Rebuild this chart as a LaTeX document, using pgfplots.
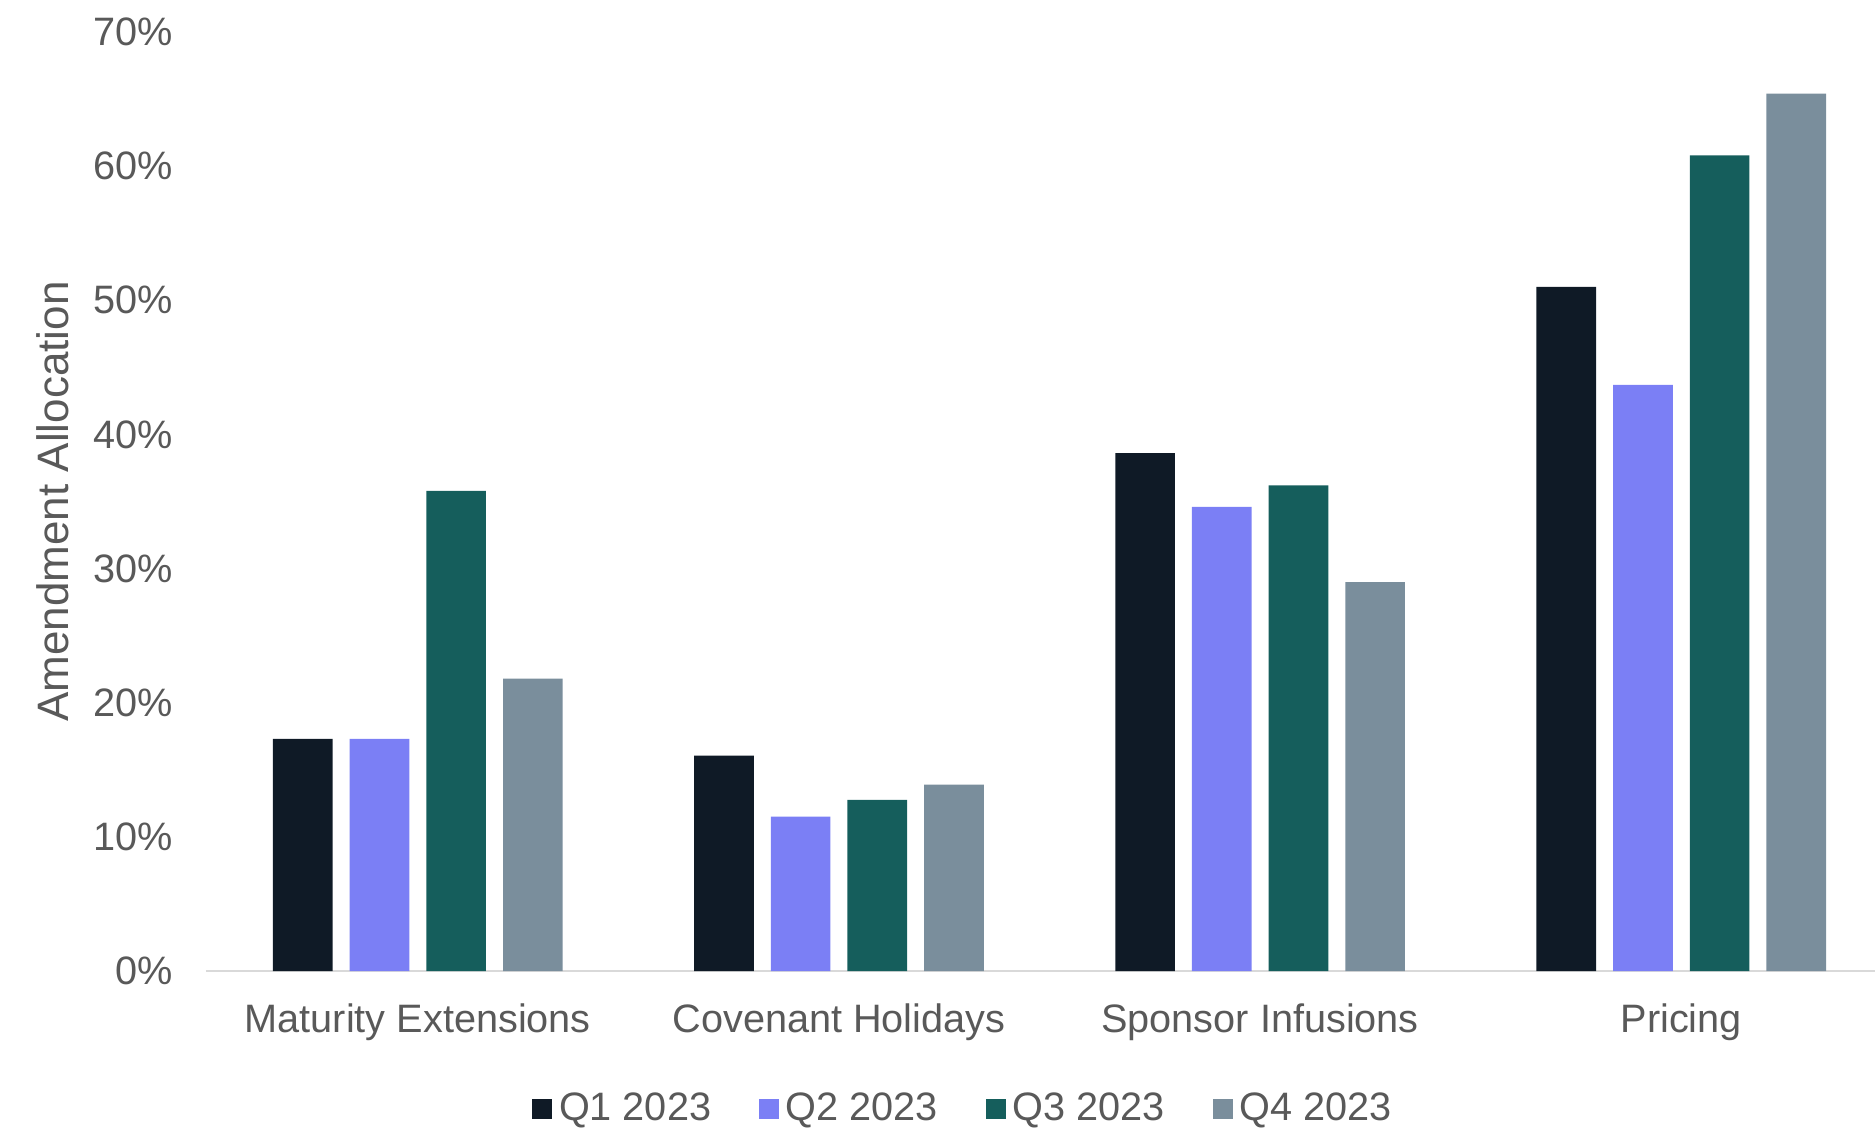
\documentclass[border=0pt]{standalone}
\usepackage{pgfplots}
\pgfplotsset{compat=1.18}
\usepackage{fontspec}
\setmainfont{Liberation Sans}
\definecolor{cq1}{HTML}{0F1A26}
\definecolor{cq2}{HTML}{7B7FF5}
\definecolor{cq3}{HTML}{155E5C}
\definecolor{cq4}{HTML}{7A8E9C}
\definecolor{txt}{HTML}{595959}
\definecolor{axln}{HTML}{D9D9D9}
\begin{document}
\begin{tikzpicture}
\begin{axis}[
  scale only axis, width=500.7pt, height=281.7pt,
  ybar=5.1pt, bar width=17.9pt,
  xmin=-0.503, xmax=3.46, ymin=0, ymax=70,
  xtick={0,1,2,3},
  xticklabels={Maturity Extensions, Covenant Holidays, Sponsor Infusions, Pricing},
  ytick={0,10,...,70},
  /pgf/number format/assume math mode=true,
  yticklabel={\pgfmathprintnumber{\tick}\%},
  major tick length=0pt,
  axis x line*=bottom, axis y line*=left,
  x axis line style={draw=axln, line width=0.6pt, -},
  y axis line style={draw=none},
  tick label style={font=\fontsize{11.9}{14}\selectfont, text=txt},
  yticklabel style={xshift=-6.5pt},
  xticklabel style={anchor=north, yshift=-6.4pt},
  ylabel={Amendment Allocation},
  ylabel style={at={(axis description cs:-0.0919,0.5)}, anchor=center, font=\fontsize{13.2}{15}\selectfont, text=txt},
  legend columns=4,
  legend style={at={(axis description cs:0.455,0)}, anchor=center, yshift=-41.4pt, draw=none,
    font=\fontsize{11.9}{14}\selectfont, text=txt,
    /tikz/every even column/.append style={column sep=12.4pt}},
  mysq/.style={legend image code/.code={\fill[##1] (0pt,-3pt) rectangle (6pt,3pt);}},
]
\addplot[fill=cq1, draw=none, mysq] coordinates {(0,17.3) (1,16.05) (2,38.6) (3,51.0)};
\addplot[fill=cq2, draw=none, mysq] coordinates {(0,17.3) (1,11.5) (2,34.6) (3,43.7)};
\addplot[fill=cq3, draw=none, mysq] coordinates {(0,35.8) (1,12.75) (2,36.2) (3,60.8)};
\addplot[fill=cq4, draw=none, mysq] coordinates {(0,21.8) (1,13.9) (2,29.0) (3,65.4)};
\legend{Q1 2023, Q2 2023, Q3 2023, Q4 2023}
\end{axis}
\pgfresetboundingbox
\path (current axis.south west) ++(-61.8pt,-47.1pt) rectangle ++(562.5pt,338.4pt);
\end{tikzpicture}
\end{document}
